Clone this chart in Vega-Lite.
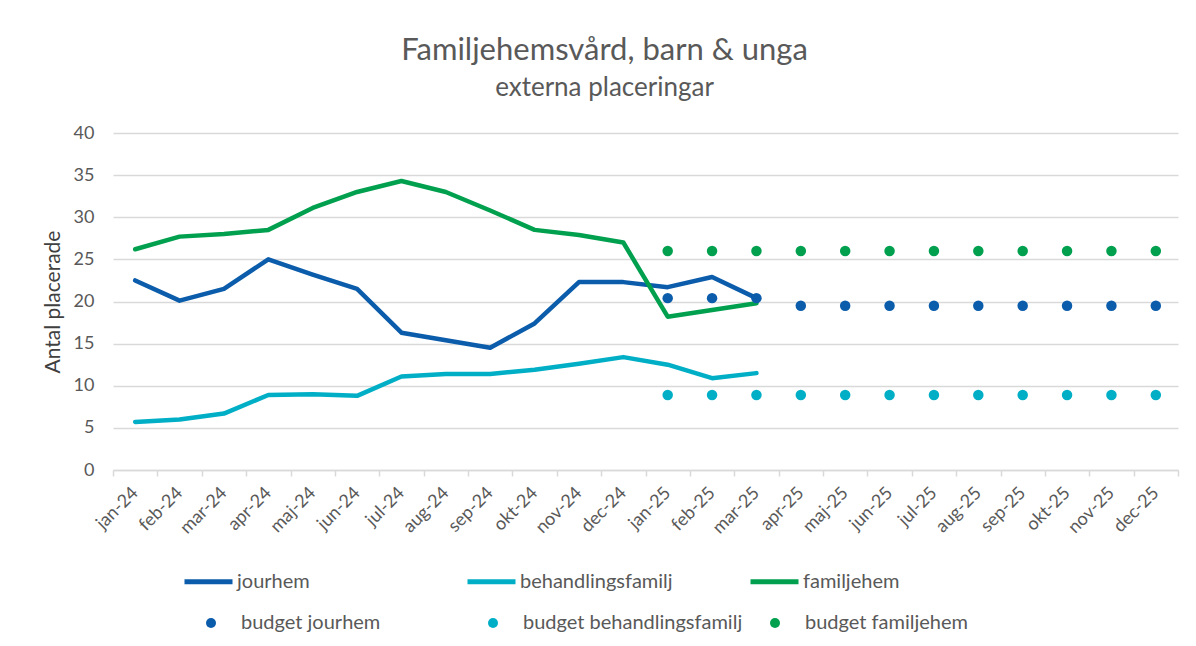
{
  "$schema": "https://vega.github.io/schema/vega-lite/v6.json",
  "width": 1065,
  "height": 337,
  "autosize": {"type": "none"},
  "padding": {"left": 113, "top": 133, "right": 18, "bottom": 176},
  "background": "white",
  "title": {
    "text": "Familjehemsvård, barn & unga",
    "subtitle": "externa placeringar",
    "anchor": "middle",
    "dx": -41,
    "offset": 22,
    "font": "Lato",
    "fontSize": 31,
    "fontWeight": "normal",
    "color": "#595959",
    "subtitleFont": "Lato",
    "subtitleFontSize": 26,
    "subtitleColor": "#595959",
    "subtitlePadding": 8
  },
  "config": {
    "view": {"stroke": null},
    "font": "Lato",
    "axis": {
      "labelFont": "Lato",
      "titleFont": "Lato",
      "labelColor": "#595959",
      "titleColor": "#404040",
      "gridColor": "#d9d9d9",
      "gridWidth": 1.5,
      "domainColor": "#d9d9d9",
      "tickColor": "#d9d9d9"
    },
    "legend": {
      "labelFont": "Lato",
      "labelColor": "#595959",
      "labelFontSize": 20,
      "labelLimit": 400,
      "padding": 0,
      "title": null
    }
  },
  "datasets": {
    "actual": [
      {"month": "jan-24", "series": "jourhem", "value": 22.5},
      {"month": "feb-24", "series": "jourhem", "value": 20.1},
      {"month": "mar-24", "series": "jourhem", "value": 21.5},
      {"month": "apr-24", "series": "jourhem", "value": 25.0},
      {"month": "maj-24", "series": "jourhem", "value": 23.2},
      {"month": "jun-24", "series": "jourhem", "value": 21.5},
      {"month": "jul-24", "series": "jourhem", "value": 16.3},
      {"month": "aug-24", "series": "jourhem", "value": 15.4},
      {"month": "sep-24", "series": "jourhem", "value": 14.5},
      {"month": "okt-24", "series": "jourhem", "value": 17.4},
      {"month": "nov-24", "series": "jourhem", "value": 22.3},
      {"month": "dec-24", "series": "jourhem", "value": 22.3},
      {"month": "jan-25", "series": "jourhem", "value": 21.7},
      {"month": "feb-25", "series": "jourhem", "value": 22.9},
      {"month": "mar-25", "series": "jourhem", "value": 20.4},
      {"month": "jan-24", "series": "behandlingsfamilj", "value": 5.7},
      {"month": "feb-24", "series": "behandlingsfamilj", "value": 6.0},
      {"month": "mar-24", "series": "behandlingsfamilj", "value": 6.7},
      {"month": "apr-24", "series": "behandlingsfamilj", "value": 8.9},
      {"month": "maj-24", "series": "behandlingsfamilj", "value": 9.0},
      {"month": "jun-24", "series": "behandlingsfamilj", "value": 8.8},
      {"month": "jul-24", "series": "behandlingsfamilj", "value": 11.1},
      {"month": "aug-24", "series": "behandlingsfamilj", "value": 11.4},
      {"month": "sep-24", "series": "behandlingsfamilj", "value": 11.4},
      {"month": "okt-24", "series": "behandlingsfamilj", "value": 11.9},
      {"month": "nov-24", "series": "behandlingsfamilj", "value": 12.6},
      {"month": "dec-24", "series": "behandlingsfamilj", "value": 13.4},
      {"month": "jan-25", "series": "behandlingsfamilj", "value": 12.5},
      {"month": "feb-25", "series": "behandlingsfamilj", "value": 10.9},
      {"month": "mar-25", "series": "behandlingsfamilj", "value": 11.5},
      {"month": "jan-24", "series": "familjehem", "value": 26.2},
      {"month": "feb-24", "series": "familjehem", "value": 27.7},
      {"month": "mar-24", "series": "familjehem", "value": 28.0},
      {"month": "apr-24", "series": "familjehem", "value": 28.5},
      {"month": "maj-24", "series": "familjehem", "value": 31.1},
      {"month": "jun-24", "series": "familjehem", "value": 33.0},
      {"month": "jul-24", "series": "familjehem", "value": 34.3},
      {"month": "aug-24", "series": "familjehem", "value": 33.0},
      {"month": "sep-24", "series": "familjehem", "value": 30.8},
      {"month": "okt-24", "series": "familjehem", "value": 28.5},
      {"month": "nov-24", "series": "familjehem", "value": 27.9},
      {"month": "dec-24", "series": "familjehem", "value": 27.0},
      {"month": "jan-25", "series": "familjehem", "value": 18.2},
      {"month": "feb-25", "series": "familjehem", "value": 19.0},
      {"month": "mar-25", "series": "familjehem", "value": 19.8}
    ],
    "budget": [
      {"month": "jan-25", "series": "budget jourhem", "value": 20.4},
      {"month": "feb-25", "series": "budget jourhem", "value": 20.4},
      {"month": "mar-25", "series": "budget jourhem", "value": 20.4},
      {"month": "apr-25", "series": "budget jourhem", "value": 19.5},
      {"month": "maj-25", "series": "budget jourhem", "value": 19.5},
      {"month": "jun-25", "series": "budget jourhem", "value": 19.5},
      {"month": "jul-25", "series": "budget jourhem", "value": 19.5},
      {"month": "aug-25", "series": "budget jourhem", "value": 19.5},
      {"month": "sep-25", "series": "budget jourhem", "value": 19.5},
      {"month": "okt-25", "series": "budget jourhem", "value": 19.5},
      {"month": "nov-25", "series": "budget jourhem", "value": 19.5},
      {"month": "dec-25", "series": "budget jourhem", "value": 19.5},
      {"month": "jan-25", "series": "budget behandlingsfamilj", "value": 8.9},
      {"month": "feb-25", "series": "budget behandlingsfamilj", "value": 8.9},
      {"month": "mar-25", "series": "budget behandlingsfamilj", "value": 8.9},
      {"month": "apr-25", "series": "budget behandlingsfamilj", "value": 8.9},
      {"month": "maj-25", "series": "budget behandlingsfamilj", "value": 8.9},
      {"month": "jun-25", "series": "budget behandlingsfamilj", "value": 8.9},
      {"month": "jul-25", "series": "budget behandlingsfamilj", "value": 8.9},
      {"month": "aug-25", "series": "budget behandlingsfamilj", "value": 8.9},
      {"month": "sep-25", "series": "budget behandlingsfamilj", "value": 8.9},
      {"month": "okt-25", "series": "budget behandlingsfamilj", "value": 8.9},
      {"month": "nov-25", "series": "budget behandlingsfamilj", "value": 8.9},
      {"month": "dec-25", "series": "budget behandlingsfamilj", "value": 8.9},
      {"month": "jan-25", "series": "budget familjehem", "value": 26.0},
      {"month": "feb-25", "series": "budget familjehem", "value": 26.0},
      {"month": "mar-25", "series": "budget familjehem", "value": 26.0},
      {"month": "apr-25", "series": "budget familjehem", "value": 26.0},
      {"month": "maj-25", "series": "budget familjehem", "value": 26.0},
      {"month": "jun-25", "series": "budget familjehem", "value": 26.0},
      {"month": "jul-25", "series": "budget familjehem", "value": 26.0},
      {"month": "aug-25", "series": "budget familjehem", "value": 26.0},
      {"month": "sep-25", "series": "budget familjehem", "value": 26.0},
      {"month": "okt-25", "series": "budget familjehem", "value": 26.0},
      {"month": "nov-25", "series": "budget familjehem", "value": 26.0},
      {"month": "dec-25", "series": "budget familjehem", "value": 26.0}
    ]
  },
  "encoding": {
    "x": {
      "field": "month",
      "type": "nominal",
      "scale": {
        "type": "band",
        "paddingInner": 0,
        "paddingOuter": 0,
        "domain": ["jan-24","feb-24","mar-24","apr-24","maj-24","jun-24","jul-24","aug-24","sep-24","okt-24","nov-24","dec-24","jan-25","feb-25","mar-25","apr-25","maj-25","jun-25","jul-25","aug-25","sep-25","okt-25","nov-25","dec-25"]
      },
      "axis": {
        "title": null,
        "labelAngle": -45,
        "labelAlign": "right",
        "labelBaseline": "middle",
        "labelFontSize": 18,
        "labelPadding": 14,
        "tickBand": "extent",
        "tickSize": 6,
        "tickWidth": 1.5,
        "domainWidth": 1.5,
        "grid": false
      }
    },
    "y": {
      "field": "value",
      "type": "quantitative",
      "scale": {"domain": [0, 40], "nice": false, "zero": true},
      "axis": {
        "title": "Antal placerade",
        "titleFontSize": 21,
        "titleFontWeight": "normal",
        "titlePadding": 10,
        "values": [0, 5, 10, 15, 20, 25, 30, 35, 40],
        "labelFontSize": 18,
        "labelPadding": 19,
        "ticks": false,
        "domain": false,
        "grid": true
      }
    }
  },
  "layer": [
    {
      "data": {"name": "actual"},
      "mark": {"type": "line", "strokeWidth": 4.5, "strokeCap": "round", "strokeJoin": "round"},
      "encoding": {
        "stroke": {
          "field": "series",
          "type": "nominal",
          "scale": {
            "domain": ["jourhem", "behandlingsfamilj", "familjehem"],
            "range": ["#0B5CAB", "#00AFC6", "#00A04F"]
          },
          "legend": {
            "orient": "none",
            "direction": "horizontal",
            "columns": 3,
            "gridAlign": "all",
            "legendX": 69,
            "legendY": 422,
            "symbolType": "stroke",
            "symbolSize": 2304,
            "symbolStrokeWidth": 5,
            "labelOffset": 2,
            "columnPadding": 67
          }
        }
      }
    },
    {
      "data": {"name": "budget"},
      "mark": {"type": "circle", "size": 110, "opacity": 1},
      "encoding": {
        "fill": {
          "field": "series",
          "type": "nominal",
          "scale": {
            "domain": ["budget jourhem", "budget behandlingsfamilj", "budget familjehem"],
            "range": ["#0B5CAB", "#00AFC6", "#00A04F"]
          },
          "legend": {
            "orient": "none",
            "direction": "horizontal",
            "columns": 3,
            "gridAlign": "all",
            "legendX": 88,
            "legendY": 480,
            "symbolType": "circle",
            "symbolSize": 100,
            "symbolStrokeWidth": 0,
            "labelOffset": 20,
            "columnPadding": 22
          }
        }
      }
    }
  ]
}
